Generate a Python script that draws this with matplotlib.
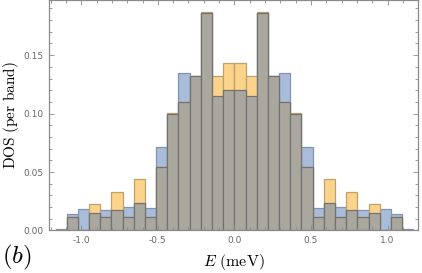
import numpy as np
import matplotlib
matplotlib.use("Agg")
import matplotlib.pyplot as plt
from matplotlib.ticker import MultipleLocator, FormatStrFormatter

plt.rcParams['mathtext.fontset'] = 'cm'

# histogram bins (meV)
bin_width = 0.073
bin_left = -1.168 + bin_width*np.arange(32)

# DOS per band, two data sets
dos_blue = [0.0015, 0.0141, 0.0181, 0.0150, 0.0172, 0.0172, 0.0201, 0.0235,
            0.0192, 0.0711, 0.0993, 0.1346, 0.1320, 0.1860, 0.1150, 0.1200,
            0.1200, 0.1150, 0.1860, 0.1320, 0.1346, 0.0993, 0.0711, 0.0192,
            0.0235, 0.0201, 0.0172, 0.0172, 0.0150, 0.0181, 0.0141, 0.0015]
dos_orange = [0.0, 0.0115, 0.0, 0.0226, 0.0115, 0.0332, 0.0115, 0.0440,
              0.0115, 0.0545, 0.1002, 0.1100, 0.1320, 0.1868, 0.1320, 0.1429,
              0.1429, 0.1320, 0.1868, 0.1320, 0.1100, 0.1002, 0.0545, 0.0115,
              0.0440, 0.0115, 0.0332, 0.0115, 0.0226, 0.0, 0.0115, 0.0]

xticks = [-1.0, -0.5, 0.0, 0.5, 1.0]
yticks = [0.0, 0.05, 0.10, 0.15]

blue = np.array(dos_blue)
orange = np.array(dos_orange)
overlap = np.minimum(blue, orange)

fig = plt.figure(figsize=(4.22, 2.73), dpi=100)
ax = fig.add_axes([0.117, 0.156, 0.874, 0.843])

ax.bar(bin_left, blue, width=bin_width, align='edge', color='#a9bcd9',
       edgecolor='#8193b0', linewidth=0.9)
ax.bar(bin_left, orange, width=bin_width, align='edge', color='#fbd38a',
       edgecolor='#bda06a', linewidth=0.9)
ax.bar(bin_left, overlap, width=bin_width, align='edge', color='#a9a79e',
       edgecolor='#727270', linewidth=0.9)

ax.set_xlim(-1.208, 1.2)
ax.set_ylim(0, 0.197)
ax.set_xticks(xticks)
ax.set_yticks(yticks)
ax.xaxis.set_minor_locator(MultipleLocator(0.1))
ax.yaxis.set_minor_locator(MultipleLocator(0.01))
ax.yaxis.set_major_formatter(FormatStrFormatter('%.2f'))
ax.xaxis.set_major_formatter(FormatStrFormatter('%.1f'))

for s in ax.spines.values():
    s.set_color('#8a8a8a')
    s.set_linewidth(0.9)
ax.tick_params(which='both', direction='in', top=True, right=True,
               color='#8a8a8a', labelcolor='#666666', labelsize=6.5, width=0.6)
ax.tick_params(which='major', length=3.5, pad=4)
ax.tick_params(which='minor', length=2)

ax.set_ylabel(r'$\mathrm{DOS\ (per\ band)}$', fontsize=11)
ax.yaxis.set_label_coords(-0.078, 0.5)
ax.set_xlabel(r'$E\ \mathrm{(meV)}$', fontsize=11.5)
ax.xaxis.set_label_coords(0.5, -0.095)
fig.text(0.005, 0.058, r'$(b)$', fontsize=18, ha='left', va='center')

fig.savefig('out.png', dpi=100)
